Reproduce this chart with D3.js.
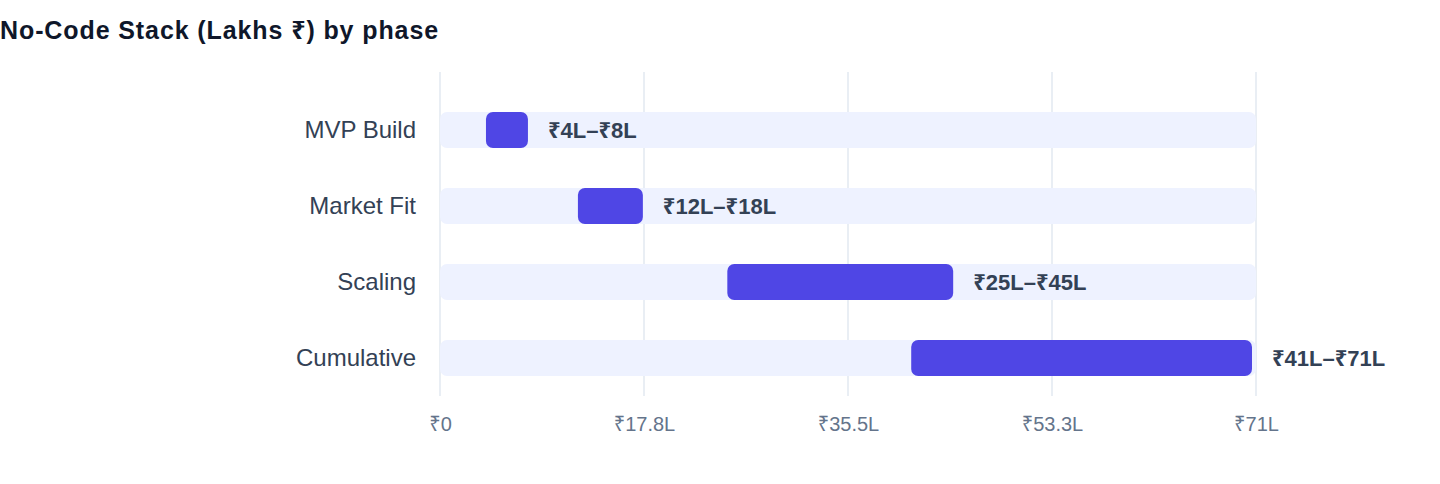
<!DOCTYPE html>
<html lang="en">
  <head>
    <meta charset="utf-8">
    <title>No-Code Stack by phase</title>
    <script src="https://cdn.jsdelivr.net/npm/d3@7"></script>
    <style>
      body { margin: 0; background: #fff; font-family: "Liberation Sans", Helvetica, Arial, "Noto Sans", sans-serif; }
    </style>
  </head>
  <body>
    <script>
      // Data
      var phases = ["MVP Build", "Market Fit", "Scaling", "Cumulative"];
      var lowValues = [4, 12, 25, 41];
      var highValues = [8, 18, 45, 71];
      var rangeLabels = ["₹4L–₹8L", "₹12L–₹18L", "₹25L–₹45L", "₹41L–₹71L"];
      var tickValues = [0, 17.75, 35.5, 53.25, 71];
      var tickLabels = ["₹0", "₹17.8L", "₹35.5L", "₹53.3L", "₹71L"];

      var w = 1440;
      var h = 484;
      var font = "'Liberation Sans', Helvetica, Arial, 'Noto Sans', sans-serif";

      var svg = d3.select("body").append("svg")
        .attr("width", w)
        .attr("height", h)
        .attr("font-family", font);

      // Title
      svg.append("text")
        .attr("x", 0)
        .attr("y", 39)
        .attr("font-size", "25px")
        .attr("font-weight", 700)
        .attr("letter-spacing", "0.9px")
        .attr("fill", "#0f172a")
        .text("No-Code Stack (Lakhs ₹) by phase");

      var xScale = d3.scaleLinear()
        .domain([0, 71])
        .range([440, 1256]);

      var yScale = d3.scaleBand()
        .domain(phases)
        .range([92, 396])
        .paddingInner(0.526)
        .paddingOuter(0.263);

      // gridlines
      svg.append("g")
        .selectAll("line")
        .data(tickValues)
        .enter()
        .append("line")
        .attr("x1", function(d) { return xScale(d); })
        .attr("x2", function(d) { return xScale(d); })
        .attr("y1", 72)
        .attr("y2", 396)
        .attr("stroke", "#e2e8f0")
        .attr("stroke-width", 1.5);

      // x axis labels
      var xAxis = d3.axisBottom(xScale)
        .tickValues(tickValues)
        .tickFormat(function(d, i) { return tickLabels[i]; })
        .tickSize(0)
        .tickPadding(0);

      var gx = svg.append("g")
        .attr("transform", "translate(0, 417)")
        .call(xAxis);
      gx.select(".domain").remove();
      gx.selectAll("text")
        .attr("font-family", font)
        .attr("font-size", "20px")
        .attr("fill", "#64748b");

      // y axis labels
      var yAxis = d3.axisLeft(yScale).tickSize(0).tickPadding(0);
      var gy = svg.append("g")
        .attr("transform", "translate(416, 0)")
        .call(yAxis);
      gy.select(".domain").remove();
      gy.selectAll("text")
        .attr("font-family", font)
        .attr("font-size", "24px")
        .attr("fill", "#334155");

      var rows = svg.selectAll(".row")
        .data(phases)
        .enter()
        .append("g")
        .attr("class", "row");

      // background tracks
      rows.append("rect")
        .attr("x", xScale(0))
        .attr("y", function(d) { return yScale(d); })
        .attr("width", xScale(71) - xScale(0))
        .attr("height", yScale.bandwidth())
        .attr("rx", 7)
        .attr("fill", "#eef2ff");

      // range bars
      rows.append("rect")
        .attr("x", function(d, i) { return xScale(lowValues[i]); })
        .attr("y", function(d) { return yScale(d); })
        .attr("width", function(d, i) { return xScale(highValues[i]) - xScale(lowValues[i]) - 4; })
        .attr("height", yScale.bandwidth())
        .attr("rx", 7)
        .attr("fill", "#4f46e5");

      // value labels
      rows.append("text")
        .attr("x", function(d, i) { return xScale(highValues[i]) + 16; })
        .attr("y", function(d) { return yScale(d) + yScale.bandwidth() / 2; })
        .attr("dy", "0.35em")
        .attr("font-size", "22px")
        .attr("font-weight", 700)
        .attr("fill", "#334155")
        .text(function(d, i) { return rangeLabels[i]; });
    </script>
  </body>
</html>
